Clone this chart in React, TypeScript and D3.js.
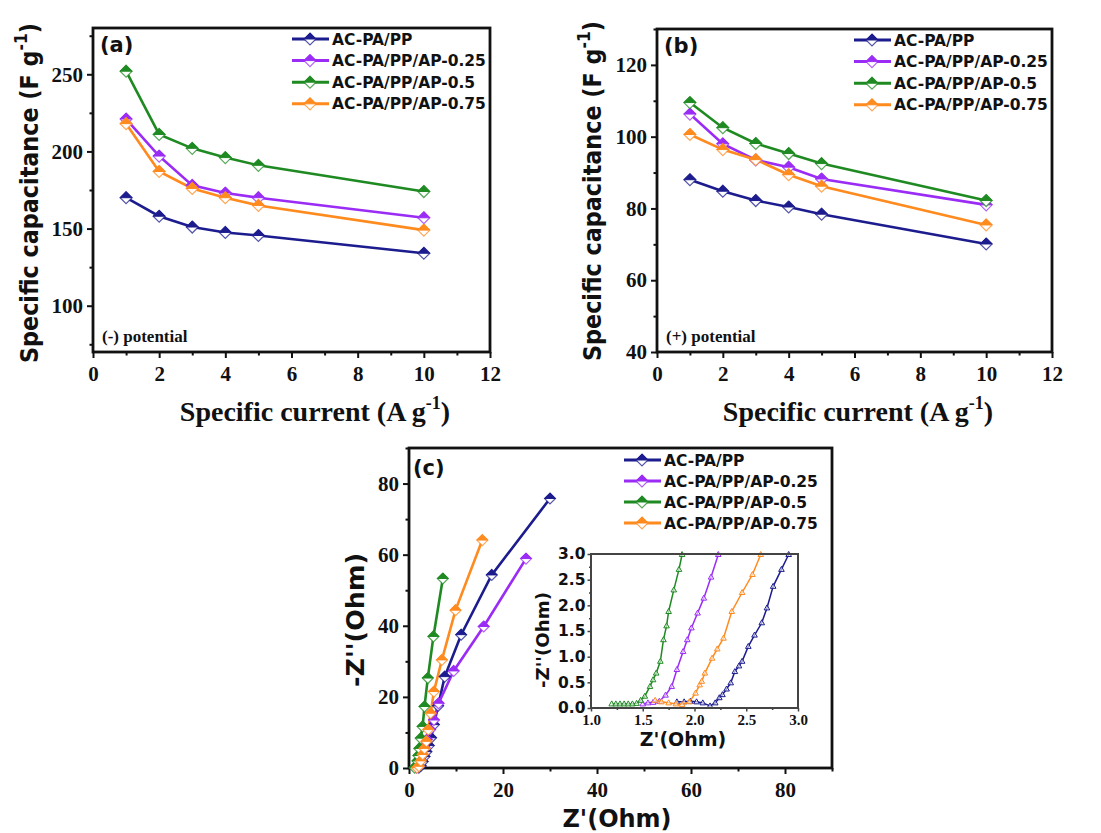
import React, { useRef, useEffect } from 'react';
import * as d3 from 'd3';

// capacitance vs specific current
const currents = [1, 2, 3, 4, 5, 10];
const negPP = [170, 158, 151, 147.5, 145.5, 134];
const negAP025 = [221, 197, 178, 173, 170, 157];
const negAP05 = [252, 211, 202, 196, 191, 174];
const negAP075 = [218, 187, 176, 170, 165, 149];
const posPP = [88, 84.8, 82.2, 80.4, 78.4, 70.1];
const posAP025 = [106.3, 98, 93.5, 91.5, 88.2, 81];
const posAP05 = [109.5, 102.5, 98.1, 95.3, 92.5, 82.2];
const posAP075 = [100.6, 96.4, 93.6, 89.4, 86.2, 75.4];

// Nyquist (Z', -Z'')
const nyqPP = [[2.1, 0.1], [2.5, 0.6], [2.9, 1.8], [3.3, 3.2], [3.7, 4.6], [4.2, 6.3], [4.7, 8.5], [5.3, 12.2], [6.2, 17.5], [7.6, 25.7], [11.1, 37.5], [17.6, 54.3], [30, 75.8]];
const nyqAP025 = [[1.6, 0.1], [2.0, 0.8], [2.4, 2.5], [2.8, 4], [3.3, 5.8], [3.8, 8], [4.5, 10.8], [5.3, 13.5], [6.3, 18.2], [9.5, 27.3], [15.9, 39.8], [24.9, 58.9]];
const nyqAP05 = [[1.2, 0.1], [1.5, 0.5], [1.8, 2.0], [2.0, 3.5], [2.2, 5.5], [2.5, 8.4], [2.9, 11.7], [3.3, 17.3], [4.0, 25.3], [5.2, 37], [7.2, 53.3]];
const nyqAP075 = [[1.7, 0.1], [2.1, 0.5], [2.5, 2], [2.9, 3.8], [3.3, 5.5], [3.7, 7.5], [4.1, 10.8], [4.6, 15.4], [5.3, 21.5], [7.0, 30.4], [9.9, 44.4], [15.6, 64.1]];

// inset, high frequency region
const insetPP = [[1.83, 0.12], [1.9, 0.12], [1.96, 0.13], [2.02, 0.12], [2.08, 0.1], [2.15, 0.04], [2.2, 0.1], [2.24, 0.2], [2.27, 0.26], [2.31, 0.37], [2.35, 0.49], [2.39, 0.71], [2.43, 0.82], [2.46, 0.91], [2.52, 1.2], [2.58, 1.42], [2.65, 1.66], [2.7, 1.95], [2.76, 2.37], [2.84, 2.7], [2.91, 2.99]];
const insetAP025 = [[1.5, 0.08], [1.55, 0.1], [1.6, 0.11], [1.66, 0.13], [1.72, 0.25], [1.78, 0.42], [1.83, 0.75], [1.89, 1.1], [1.93, 1.33], [1.97, 1.56], [2.03, 1.85], [2.09, 2.14], [2.16, 2.55], [2.23, 2.99]];
const insetAP05 = [[1.2, 0.08], [1.24, 0.08], [1.28, 0.08], [1.32, 0.08], [1.36, 0.08], [1.4, 0.08], [1.44, 0.09], [1.48, 0.15], [1.52, 0.23], [1.57, 0.42], [1.6, 0.55], [1.63, 0.68], [1.67, 0.91], [1.7, 1.33], [1.73, 1.6], [1.75, 1.88], [1.8, 2.3], [1.85, 2.7], [1.88, 2.99]];
const insetAP075 = [[1.62, 0.15], [1.68, 0.12], [1.75, 0.1], [1.82, 0.08], [1.88, 0.07], [1.95, 0.12], [2.01, 0.29], [2.05, 0.45], [2.07, 0.52], [2.1, 0.68], [2.17, 0.97], [2.22, 1.15], [2.28, 1.36], [2.36, 1.88], [2.46, 2.25], [2.56, 2.6], [2.64, 2.99]];

const names = ['AC-PA/PP', 'AC-PA/PP/AP-0.25', 'AC-PA/PP/AP-0.5', 'AC-PA/PP/AP-0.75'];
const colors = ['#1c1c8e', '#9a2cf5', '#1f8a22', '#ff8a1e'];

const xTicks = [0, 2, 4, 6, 8, 10, 12];
const xMinor = [1, 3, 5, 7, 9, 11];
const negTicks = [100, 150, 200, 250];
const negMinor = [75, 125, 175, 225, 275];
const posTicks = [40, 60, 80, 100, 120];
const posMinor = [50, 70, 90, 110, 130];
const zTicks = [0, 20, 40, 60, 80];
const zMinor = [10, 30, 50, 70, 90];
const inTicks = [1.0, 1.5, 2.0, 2.5, 3.0];
const inMinor = [1.25, 1.75, 2.25, 2.75];
const inYTicks = [0, 0.5, 1.0, 1.5, 2.0, 2.5, 3.0];
const inYMinor = [0.25, 0.75, 1.25, 1.75, 2.25, 2.75];

const SERIF = "'Liberation Serif', 'Times New Roman', serif";
const SANS = "'DejaVu Sans', Verdana, sans-serif";

function axes(g, x, y, xt, xm, yt, ym, o) {
  const [x0, x1] = x.range();
  const [y0, y1] = y.range();
  g.append('g').attr('transform', `translate(0,${y0})`)
    .call(d3.axisBottom(x).tickValues(xm).tickSize(o.minor).tickSizeOuter(0).tickFormat(() => ''));
  g.append('g').attr('transform', `translate(${x0},0)`)
    .call(d3.axisLeft(y).tickValues(ym).tickSize(o.minor).tickSizeOuter(0).tickFormat(() => ''));
  const bx = g.append('g').attr('transform', `translate(0,${y0})`)
    .call(d3.axisBottom(x).tickValues(xt).tickSize(o.major).tickSizeOuter(0).tickPadding(o.padX).tickFormat(o.fmtX));
  const ly = g.append('g').attr('transform', `translate(${x0},0)`)
    .call(d3.axisLeft(y).tickValues(yt).tickSize(o.major).tickSizeOuter(0).tickPadding(o.padY).tickFormat(o.fmtY));
  g.selectAll('.domain').remove();
  g.selectAll('.tick line').attr('stroke', o.color).attr('stroke-width', o.tickW);
  bx.selectAll('text').attr('font-family', o.fontX).attr('font-weight', 'bold')
    .attr('font-size', o.sizeX).attr('fill', '#111');
  ly.selectAll('text').attr('font-family', o.fontY).attr('font-weight', 'bold')
    .attr('font-size', o.sizeY).attr('fill', '#111');
  g.append('rect').attr('x', x0).attr('y', y1).attr('width', x1 - x0).attr('height', y0 - y1)
    .attr('fill', 'none').attr('stroke', o.color).attr('stroke-width', o.frameW);
}

function diamond(g, cx, cy, color, r) {
  g.append('path')
    .attr('d', `M${cx},${cy - r}L${cx + r},${cy}L${cx},${cy + r}L${cx - r},${cy}Z`)
    .attr('fill', '#fff').attr('stroke', color).attr('stroke-opacity', 0.75).attr('stroke-width', 1.2);
  g.append('path')
    .attr('d', `M${cx},${cy - r}L${cx + r},${cy}L${cx - r},${cy}Z`)
    .attr('fill', color).attr('stroke', color).attr('stroke-width', 1);
}

function legend(g, x0, y0, dy) {
  names.forEach((n, i) => {
    const yy = y0 + i * dy;
    g.append('line').attr('x1', x0).attr('x2', x0 + 37).attr('y1', yy).attr('y2', yy)
      .attr('stroke', colors[i]).attr('stroke-width', 3);
    diamond(g, x0 + 18, yy, colors[i], 6);
    g.append('text').attr('x', x0 + 40).attr('y', yy + 5.5).text(n)
      .attr('font-family', SANS).attr('font-weight', 'bold').attr('font-size', 15.5).attr('fill', '#111');
  });
}

function yLabel(g, cx, cy, main, len, size, sup = true) {
  const t = g.append('text').attr('transform', `translate(${cx},${cy}) rotate(-90)`)
    .attr('text-anchor', 'middle').attr('font-family', SANS).attr('font-weight', 'bold')
    .attr('font-size', size).attr('fill', '#111');
  if (len) t.attr('textLength', len).attr('lengthAdjust', 'spacingAndGlyphs');
  t.append('tspan').text(main);
  if (sup) {
    t.append('tspan').attr('dy', -size * 0.45).attr('font-size', size * 0.7).text('-1');
    t.append('tspan').attr('dy', size * 0.45).text(')');
  }
}

function xLabel(g, cx, cy) {
  const t = g.append('text').attr('x', cx).attr('y', cy).attr('text-anchor', 'middle')
    .attr('font-family', SERIF).attr('font-weight', 'bold').attr('font-size', 28).attr('fill', '#111');
  t.append('tspan').text('Specific current (A g');
  t.append('tspan').attr('dy', -12).attr('font-size', 18).text('-1');
  t.append('tspan').attr('dy', 12).text(')');
}

function ratePanel(svg, box, yDom, yt, ym, series, tag, note) {
  const g = svg.append('g');
  const x = d3.scaleLinear().domain([0, 12]).range([box.l, box.r]);
  const y = d3.scaleLinear().domain(yDom).range([box.b, box.t]);
  axes(g, x, y, xTicks, xMinor, yt, ym, {
    major: 6, minor: 3.5, padX: 8, padY: 4, tickW: 2, frameW: 2.8, color: '#111',
    fmtX: d3.format('d'), fmtY: d3.format('d'), fontX: SERIF, fontY: SERIF, sizeX: 21, sizeY: 21,
  });
  const line = d3.line().x((d) => x(d[0])).y((d) => y(d[1]));
  series.forEach((vals, i) => {
    const pts = currents.map((c, k) => [c, vals[k]]);
    g.append('path').attr('d', line(pts)).attr('fill', 'none')
      .attr('stroke', colors[i]).attr('stroke-width', 2.6);
  });
  series.forEach((vals, i) => {
    currents.forEach((c, k) => diamond(g, x(c), y(vals[k]), colors[i], 6));
  });
  g.append('text').attr('x', box.l + 7).attr('y', box.t + 24).text(tag)
    .attr('font-family', SANS).attr('font-weight', 'bold').attr('font-size', 21).attr('fill', '#111');
  g.append('text').attr('x', box.l + 9).attr('y', box.b - 10).text(note)
    .attr('font-family', SERIF).attr('font-weight', 'bold').attr('font-size', 17).attr('fill', '#111');
  legend(g, box.r - 198, box.t + 11, 21.6);
  return g;
}

export default function App() {
  const ref = useRef(null);

  useEffect(() => {
    const svg = d3.select(ref.current);
    svg.selectAll('*').remove();

    // (a) negative potential
    const ga = ratePanel(svg, { l: 93, r: 490, t: 28, b: 352 }, [70, 280], negTicks, negMinor,
      [negPP, negAP025, negAP05, negAP075], '(a)', '(-) potential');
    yLabel(ga, 38, 193, 'Specific capacitance (F g', 340, 25);
    xLabel(ga, 315, 421);

    // (b) positive potential
    const gb = ratePanel(svg, { l: 657, r: 1052, t: 29, b: 352 }, [40, 130], posTicks, posMinor,
      [posPP, posAP025, posAP05, posAP075], '(b)', '(+) potential');
    yLabel(gb, 601, 191, 'Specific capacitance (F g', 340, 25);
    xLabel(gb, 858, 421);

    // (c) Nyquist
    const gc = svg.append('g');
    const x = d3.scaleLinear().domain([0, 90]).range([409, 832]);
    const y = d3.scaleLinear().domain([0, 90]).range([768, 448]);
    axes(gc, x, y, zTicks, zMinor, zTicks, zMinor, {
      major: 6, minor: 3.5, padX: 8, padY: 4, tickW: 2, frameW: 2.8, color: '#111',
      fmtX: d3.format('d'), fmtY: d3.format('d'), fontX: SERIF, fontY: SERIF, sizeX: 21, sizeY: 21,
    });
    const nyq = [nyqPP, nyqAP025, nyqAP05, nyqAP075];
    const line = d3.line().x((d) => x(d[0])).y((d) => y(d[1]));
    nyq.forEach((pts, i) => {
      gc.append('path').attr('d', line(pts)).attr('fill', 'none')
        .attr('stroke', colors[i]).attr('stroke-width', 2.6);
    });
    nyq.forEach((pts, i) => pts.forEach((p) => diamond(gc, x(p[0]), y(p[1]), colors[i], 5.5)));
    gc.append('text').attr('x', 413).attr('y', 475).text('(c)')
      .attr('font-family', SANS).attr('font-weight', 'bold').attr('font-size', 21).attr('fill', '#111');
    legend(gc, 624, 460, 21);
    yLabel(gc, 364, 620, "-Z''(Ohm)", 134, 25, false);
    gc.append('text').attr('x', 617).attr('y', 827).attr('text-anchor', 'middle').text("Z'(Ohm)")
      .attr('font-family', SANS).attr('font-weight', 'bold').attr('font-size', 24).attr('fill', '#111');

    // inset
    const gi = svg.append('g');
    const xi = d3.scaleLinear().domain([1, 3]).range([591, 798]);
    const yi = d3.scaleLinear().domain([0, 3]).range([708, 554]);
    gi.append('rect').attr('x', 591).attr('y', 554).attr('width', 207).attr('height', 154).attr('fill', '#fff');
    const lineI = d3.line().x((d) => xi(d[0])).y((d) => yi(d[1]));
    const ins = [insetPP, insetAP025, insetAP05, insetAP075];
    ins.forEach((pts, i) => {
      gi.append('path').attr('d', lineI(pts)).attr('fill', 'none')
        .attr('stroke', colors[i]).attr('stroke-width', 1.5);
      pts.forEach((p) => {
        const cx = xi(p[0]);
        const cy = yi(p[1]);
        gi.append('path').attr('d', `M${cx},${cy - 3}L${cx + 2.8},${cy + 2}L${cx - 2.8},${cy + 2}Z`)
          .attr('fill', '#fff').attr('fill-opacity', 0.6).attr('stroke', colors[i]).attr('stroke-width', 1);
      });
    });
    axes(gi, xi, yi, inTicks, inMinor, inYTicks, inYMinor, {
      major: 3.5, minor: 2, padX: 3, padY: 2, tickW: 1.5, frameW: 2, color: '#444',
      fmtX: d3.format('.1f'), fmtY: d3.format('.1f'), fontX: SERIF, fontY: SANS, sizeX: 15, sizeY: 15.5,
    });
    yLabel(gi, 549, 640, "-Z''(Ohm)", 96, 18, false);
    gi.append('text').attr('x', 683).attr('y', 746).attr('text-anchor', 'middle').text("Z'(Ohm)")
      .attr('font-family', SANS).attr('font-weight', 'bold').attr('font-size', 19).attr('fill', '#111');
  }, []);

  return (
    <svg ref={ref} width={1101} height={833}
      style={{ position: 'absolute', left: 0, top: 0, background: '#fff' }}></svg>
  );
}
